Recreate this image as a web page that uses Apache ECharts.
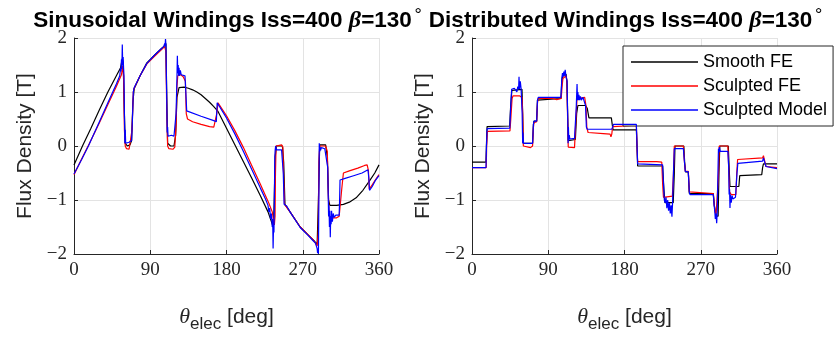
<!DOCTYPE html>
<html>
<head>
<meta charset="utf-8">
<script src="https://cdn.jsdelivr.net/npm/echarts@6/dist/echarts.min.js"></script>
<style>
  html, body { margin: 0; padding: 0; background: #ffffff; }
  #chart { width: 837px; height: 338px; }
</style>
</head>
<body>
<div id="chart"></div>
<script>
// Axis ticks shared by both panels
const xTicks = [0, 90, 180, 270, 360];
const yTicks = [-2, -1, 0, 1, 2];
const seriesNames = ['Smooth FE', 'Sculpted FE', 'Sculpted Model'];
const panelNames = ['Sinusoidal Windings Iss=400 ', 'Distributed Windings Iss=400 '];
const betaText = '=130';

// Sinusoidal windings: [theta_elec (deg), flux density (T)]
const sinSmoothFE = [
  [0,-0.35],[10,0.0],[20,0.33],[30,0.67],[40,1.0],[50,1.3],[55,1.45],[57,1.62],[58,1.55],[59.5,0.6],
  [60.5,0.05],[63,0.0],[66,0.02],[68,0.1],[69.5,0.8],[71,1.06],[78,1.3],[86,1.54],[95,1.68],[103,1.8],
  [107,1.86],[108.5,1.9],[109.5,0.9],[110.5,0.05],[114,0.0],[118,0.0],[120,0.2],[121.5,0.9],[124,1.08],
  [130,1.09],[135,1.07],[140,1.04],[145,1.0],[150,0.95],[155,0.88],[160,0.81],[165,0.73],[170,0.64],
  [180,0.33],[190,0.02],[200,-0.29],[210,-0.6],[220,-0.92],[229,-1.22],[233,-1.4],[235,-1.5],[236,-1.2],
  [237.5,-0.2],[239,0.0],[246,0.0],[247.5,-0.3],[249,-1.08],[255,-1.22],[267,-1.5],[276,-1.64],[283,-1.75],
  [287,-1.82],[288.5,-1.0],[290,0.02],[297,0.02],[299,-0.2],[300.5,-1.0],[302,-1.1],[310,-1.1],[318,-1.08],
  [325,-1.04],[333,-0.96],[341,-0.82],[349,-0.64],[355,-0.5],[360,-0.35]
];
const sinSculptedFE = [
  [0,-0.53],[9,-0.24],[18,0.04],[30,0.43],[40,0.77],[50,1.1],[56,1.32],[57.5,1.48],[58.5,1.3],[59.5,0.3],
  [60.5,0.0],[62,-0.05],[65,-0.06],[67,-0.03],[68.5,0.3],[70,1.0],[71,1.07],[78,1.3],[86,1.52],[95,1.66],
  [103,1.78],[107,1.84],[108.5,1.75],[109.5,0.6],[110.5,0.0],[112,-0.05],[117,-0.06],[119,-0.02],
  [120.5,0.4],[121.5,1.1],[122.5,1.3],[126,1.32],[129,1.28],[131.5,1.2],[132.5,0.6],[134,0.5],[140,0.45],
  [150,0.4],[160,0.36],[165,0.35],[167,0.38],[168.5,0.6],[170,0.8],[180,0.56],[190,0.28],[200,-0.03],
  [210,-0.37],[220,-0.71],[230,-1.06],[234,-1.22],[236.5,-1.46],[237.3,-1.3],[237.8,-0.5],[238.5,0.0],
  [245,0.02],[246.5,-0.02],[247.5,-0.6],[248.5,-1.08],[255,-1.22],[267,-1.5],[276,-1.64],[283,-1.75],
  [287,-1.85],[288.3,-1.6],[289,-0.3],[290,0.0],[297,0.0],[299,-0.1],[300,-0.8],[301,-1.3],[305,-1.33],
  [310,-1.33],[313,-1.3],[316,-0.8],[318,-0.5],[325,-0.46],[335,-0.41],[343,-0.36],[346,-0.35],[347.5,-0.45],
  [348.5,-0.8],[352,-0.72],[356,-0.62],[360,-0.53]
];
const sinSculptedModel = [
  [0,-0.52],[9,-0.25],[17,0.0],[30,0.45],[40,0.8],[50,1.15],[54,1.3],[55,1.45],[55.5,1.38],[56,1.6],
  [56.5,1.42],[57,1.88],[57.5,1.5],[58,1.65],[58.5,1.45],[59,1.3],[59.5,0.6],[60,0.05],[60.5,0.3],
  [61,0.05],[63,0.06],[65,0.07],[67,0.07],[68,0.1],[69,0.5],[70,1.0],[71,1.08],[78,1.3],[86,1.53],
  [95,1.68],[103,1.8],[106,1.84],[107,1.9],[107.5,1.85],[108,1.98],[108.5,1.88],[109.5,0.8],[110,0.25],
  [110.5,0.35],[111,0.18],[112,0.2],[115,0.2],[118,0.18],[119.5,0.15],[120.5,0.6],[121.5,1.25],[122,1.67],
  [122.5,1.35],[123,1.5],[123.5,1.3],[124,1.45],[124.5,1.3],[125.5,1.4],[126.5,1.32],[128,1.35],[131,1.3],
  [132,1.0],[133,0.65],[135,0.62],[150,0.55],[165,0.47],[168,0.45],[169,0.8],[180,0.52],[190,0.22],
  [200,-0.1],[210,-0.44],[220,-0.78],[226,-0.98],[229,-1.1],[230,-1.22],[231,-1.15],[232,-1.35],
  [233,-1.25],[234,-1.5],[234.5,-1.35],[235,-1.9],[235.5,-1.5],[236,-1.6],[236.5,-1.0],[237,-0.2],
  [237.5,-0.07],[238,0.0],[239,-0.07],[245,-0.07],[246,-0.05],[247,-0.5],[248,-1.08],[251,-1.11],
  [255,-1.22],[267,-1.51],[276,-1.65],[282,-1.75],[285,-1.8],[286,-1.85],[287,-1.9],[287.5,-1.98],
  [288,-1.9],[288.5,-2.0],[289,-1.0],[289.5,0.05],[290,-0.1],[290.5,-0.02],[291,-0.08],[292,-0.03],
  [296,-0.05],[298,-0.07],[299.5,-0.4],[300.5,-1.3],[301,-1.1],[301.5,-1.5],[302,-1.2],[302.5,-1.69],
  [303,-1.3],[303.5,-1.45],[304,-1.2],[305,-1.4],[306,-1.25],[307,-1.32],[309,-1.28],[311,-1.3],
  [313,-1.28],[313.5,-1.0],[314,-0.63],[320,-0.6],[330,-0.55],[340,-0.5],[347,-0.44],[348,-0.6],
  [348.8,-0.82],[352,-0.75],[356,-0.63],[360,-0.55]
];

// Distributed windings: [theta_elec (deg), flux density (T)]
const distSmoothFE = [
  [0,-0.3],[16.5,-0.3],[17,0.0],[17.8,0.36],[44.5,0.37],[45.5,0.7],[47,1.03],[59,1.05],[59.8,0.6],
  [60.5,0.05],[71.5,0.05],[72.5,0.4],[73.2,0.46],[76.3,0.46],[77.3,0.85],[78.2,0.88],[105,0.88],
  [106,1.2],[107,1.3],[111,1.33],[112,1.2],[113,0.5],[113.6,0.1],[122,0.12],[123.5,0.6],[125,0.75],
  [134,0.75],[136,0.7],[138,0.52],[164.5,0.52],[165.5,0.4],[166.5,0.3],[194,0.3],[195,-0.1],[195.5,-0.37],
  [225,-0.37],[226.5,-0.8],[227.8,-1.05],[237.5,-1.05],[238.8,-0.5],[239.6,0.0],[250,0.0],[251,-0.3],
  [252,-0.48],[255.3,-0.48],[256.5,-0.88],[284.8,-0.88],[286,-1.1],[288,-1.3],[290.5,-1.3],[291.5,-0.5],
  [292.5,0.0],[302.5,0.0],[303.5,-0.4],[304.5,-0.75],[315,-0.75],[316,-0.55],[317,-0.53],[342,-0.53],
  [343,-0.4],[344,-0.33],[360,-0.33]
];
const distSculptedFE = [
  [0,-0.4],[16.8,-0.4],[17.3,0.0],[18.2,0.27],[44.8,0.28],[45.8,0.5],[47.3,0.88],[48.5,0.93],[56,0.93],
  [59,0.9],[59.8,0.6],[60.6,0.0],[62,-0.03],[69,-0.03],[71.5,0.0],[72.5,0.35],[73.2,0.43],[76.3,0.45],
  [77.3,0.8],[78.2,0.88],[95,0.88],[100,0.86],[105.3,0.88],[106.3,1.1],[107.3,1.25],[111,1.3],[112,1.2],
  [113,0.4],[113.6,-0.02],[115,-0.04],[121,-0.03],[122,0.0],[123,0.6],[124,0.88],[133,0.9],[134.5,0.75],
  [135.5,0.35],[137,0.25],[155,0.23],[163,0.22],[164,0.17],[165,0.22],[166,0.36],[167.5,0.38],[194,0.38],
  [195,-0.1],[195.5,-0.29],[218,-0.29],[224,-0.3],[225,-0.7],[226,-0.95],[236.5,-0.93],[237.8,-0.5],
  [238.8,0.0],[249.5,0.0],[250.8,-0.3],[251.8,-0.47],[255.3,-0.47],[256.5,-0.85],[284.8,-0.88],
  [286,-1.1],[288,-1.3],[290,-1.3],[291,-0.5],[291.8,0.0],[302,0.0],[303,-0.4],[304,-0.85],[306,-0.9],
  [311.5,-0.9],[312.5,-0.5],[313.5,-0.25],[314.5,-0.23],[343,-0.22],[344,-0.18],[346,-0.17],[347,-0.38],
  [348,-0.4],[360,-0.4]
];
const distSculptedModel = [
  [0,-0.4],[16.5,-0.4],[17.1,0.0],[17.8,0.32],[44.6,0.33],[45.6,0.7],[46.8,1.05],[50,1.07],[52,1.1],
  [53,1.0],[54,1.1],[55,1.05],[55.5,1.28],[56,1.05],[57,1.2],[58,1.05],[59.2,0.6],[59.8,0.05],[60.2,0.25],
  [60.8,0.05],[65,0.05],[71.5,0.05],[72.5,0.4],[73.2,0.46],[76.3,0.46],[77.3,0.85],[78.2,0.9],[105,0.9],
  [106,1.25],[106.8,1.35],[107.6,1.28],[108.4,1.38],[109.2,1.3],[110,1.41],[110.8,1.3],[111.5,1.33],
  [112.2,1.2],[113,0.5],[113.4,0.05],[113.8,0.35],[114.3,0.1],[114.8,0.2],[115.5,0.13],[121,0.14],
  [122,0.15],[123,0.7],[124,1.15],[124.5,0.85],[125,1.0],[125.5,0.85],[126.2,0.95],[127,0.85],
  [128,0.92],[129,0.85],[131,0.9],[133,0.88],[134,0.75],[135,0.35],[136,0.31],[160,0.31],[165,0.31],
  [166,0.35],[167,0.4],[194,0.4],[195,-0.1],[195.5,-0.33],[225,-0.35],[226,-0.7],[227,-1.0],[228,-1.05],
  [229,-0.95],[230,-1.15],[231,-1.0],[232,-1.2],[233,-1.05],[234,-1.25],[235,-1.1],[236,-1.31],
  [236.6,-1.1],[237.8,-0.5],[238.8,-0.05],[249.5,-0.05],[250.8,-0.3],[251.8,-0.47],[255.3,-0.48],
  [256.5,-0.85],[257.3,-0.9],[284.8,-0.9],[285.8,-1.1],[286.5,-1.2],[287.2,-1.35],[288,-1.25],
  [288.8,-1.43],[289.5,-1.2],[290.3,-0.5],[290.9,-0.05],[291.5,-0.12],[292,-0.02],[293,-0.1],[302,-0.1],
  [303,-0.4],[303.5,-0.9],[304,-0.8],[304.5,-1.15],[305,-0.9],[306,-1.05],[307,-0.92],[308,-0.98],
  [311,-0.95],[312,-0.7],[312.8,-0.5],[313.8,-0.32],[315,-0.3],[343,-0.28],[344,-0.22],[345,-0.19],
  [346,-0.2],[347,-0.38],[348,-0.4],[360,-0.42]
];

const panelData = [
  [sinSmoothFE, sinSculptedFE, sinSculptedModel],
  [distSmoothFE, distSculptedFE, distSculptedModel]
];
const lineColors = ['#000000', '#ff0000', '#0000ff'];

const axisInk = '#262626';
const gridInk = '#e3e3e3';
const serifFont = "'Liberation Serif', 'DejaVu Serif', serif";
const sansFont = "'Liberation Sans', Arial, Helvetica, sans-serif";

function tickText(v) {
  return v < 0 ? '\u2212' + Math.abs(v) : String(v);
}

const gridLefts = [74, 472];
const plotWidth = 305;

const grids = gridLefts.map(l => ({ left: l, top: 38, width: plotWidth, height: 230 }));

const xAxes = gridLefts.map((l, i) => ({
  type: 'value', gridIndex: i,
  min: xTicks[0], max: xTicks[xTicks.length - 1], interval: xTicks[1] - xTicks[0],
  axisLine: { show: true, onZero: false, lineStyle: { color: axisInk, width: 1 } },
  axisTick: { show: true, inside: true, length: 4, lineStyle: { color: axisInk } },
  axisLabel: { color: '#262626', fontFamily: serifFont, fontSize: 19, margin: 7, formatter: tickText },
  splitLine: { show: true, lineStyle: { color: gridInk, width: 1 } },
  name: '{t|\u03b8}{s|elec}{d| [deg]}',
  nameLocation: 'middle', nameGap: 48,
  nameTextStyle: {
    rich: {
      t: { fontFamily: serifFont, fontStyle: 'italic', fontSize: 22, color: '#262626' },
      s: { fontFamily: sansFont, fontSize: 17, color: '#262626', padding: [14, 0, 0, 0] },
      d: { fontFamily: sansFont, fontSize: 21, color: '#262626' }
    }
  }
}));

const yAxes = gridLefts.map((l, i) => ({
  type: 'value', gridIndex: i,
  min: yTicks[0], max: yTicks[yTicks.length - 1], interval: yTicks[1] - yTicks[0],
  axisLine: { show: true, onZero: false, lineStyle: { color: axisInk, width: 1 } },
  axisTick: { show: true, inside: true, length: 4, lineStyle: { color: axisInk } },
  axisLabel: { color: '#262626', fontFamily: serifFont, fontSize: 19, margin: 7, formatter: tickText },
  splitLine: { show: true, lineStyle: { color: gridInk, width: 1 } },
  name: 'Flux Density [T]',
  nameLocation: 'middle', nameGap: 38, nameRotate: 90,
  nameTextStyle: { fontFamily: sansFont, fontSize: 21, color: '#262626' }
}));

const titles = panelNames.map((txt, i) => ({
  text: '{a|' + txt + '}{b|\u03b2}{a|' + betaText + '}{c|\u00b0}',
  left: gridLefts[i] + plotWidth / 2 - 4,
  top: 1,
  textAlign: 'center',
  textStyle: {
    rich: {
      a: { fontFamily: sansFont, fontWeight: 'bold', fontSize: 22.5, color: '#000' },
      b: { fontFamily: serifFont, fontStyle: 'italic', fontWeight: 'bold', fontSize: 24, color: '#000' },
      c: { fontFamily: serifFont, fontSize: 17, color: '#000', padding: [0, 0, 13, 3] }
    }
  }
}));

const series = [];
panelData.forEach((sets, p) => {
  sets.forEach((data, k) => {
    series.push({
      type: 'line',
      name: seriesNames[k],
      xAxisIndex: p, yAxisIndex: p,
      data: data,
      symbol: 'none',
      lineStyle: { color: lineColors[k], width: 1.2 },
      itemStyle: { color: lineColors[k] },
      z: 2 + k,
      silent: true
    });
  });
});

const chart = echarts.init(document.getElementById('chart'), null, { renderer: 'canvas' });
chart.setOption({
  animation: false,
  backgroundColor: '#ffffff',
  title: titles,
  grid: grids,
  xAxis: xAxes,
  yAxis: yAxes,
  legend: {
    data: seriesNames,
    orient: 'vertical',
    left: 623, top: 46,
    padding: [7, 6, 7, 8],
    itemGap: 6,
    icon: 'rect',
    itemWidth: 67, itemHeight: 1.5,
    backgroundColor: '#ffffff',
    borderColor: axisInk, borderWidth: 1,
    textStyle: { fontFamily: sansFont, fontSize: 18, color: '#000', lineHeight: 18 }
  },
  series: series
});
</script>
</body>
</html>
